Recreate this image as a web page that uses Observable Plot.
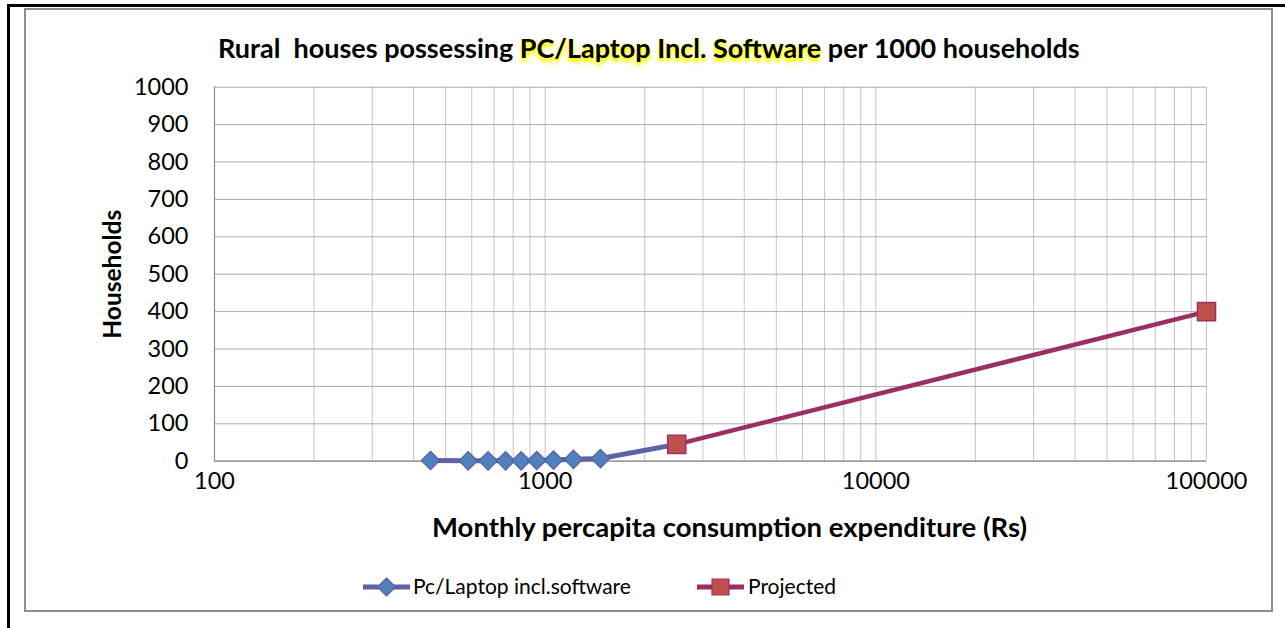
<!DOCTYPE html>
<html><head><meta charset="utf-8">
<script src="https://cdn.jsdelivr.net/npm/d3@7"></script>
<script src="https://cdn.jsdelivr.net/npm/@observablehq/plot@0.6"></script>
<style>
body{margin:0;background:#fff;font-family:Lato,sans-serif;}
#page{position:relative;width:1285px;height:628px;overflow:hidden;background:#fff;}
#outer{position:absolute;left:7px;top:4px;width:1300px;height:700px;border-left:3px solid #000;border-top:3px solid #000;}
#inner{position:absolute;left:24px;top:8px;width:1249px;height:604px;border:2px solid #8e8e8e;box-sizing:border-box;}
#title{position:absolute;left:218px;top:31.5px;font-size:27px;line-height:1.2;font-weight:bold;white-space:pre;color:#000;}
#title .hl{text-shadow:0 3px 3px #ffff00,0 4px 5px #ffff40,0 0 2px #ffff60;}
#chart{position:absolute;left:0;top:70px;}
.leg{position:absolute;top:573px;font-size:21px;line-height:1.2;white-space:pre;color:#000;}
.sw{position:absolute;top:577px;}
</style></head>
<body>
<div id="page">
  <div id="outer"></div>
  <div id="inner"></div>
  <div id="title"></div>
  <div id="chart"></div>
  <div id="legend"></div>
</div>
<script>
// ---- data ----
const pcX = [450, 585, 672, 759, 846, 943, 1060, 1218, 1470, 2500];
const pcY = [2, 1, 1, 1, 1, 2, 3, 5, 7, 45];
const pcMarkerCount = 9;
const projX = [2500, 100000];
const projY = [45, 400];
const yTicks = [0, 100, 200, 300, 400, 500, 600, 700, 800, 900, 1000];
const xTicks = [100, 1000, 10000, 100000];
const seriesNames = ["Pc/Laptop incl.software", "Projected"];
const titleParts = ["Rural  houses possessing ", "PC/Laptop Incl. Software", " per 1000 households"];
const xTitle = "Monthly percapita consumption expenditure (Rs)";
const yTitle = "Households";

const pcData = pcX.map((x, i) => ({x, y: pcY[i]}));
const projData = projX.map((x, i) => ({x, y: projY[i]}));
const minorTicks = d3.scaleLog().domain([100, 100000]).ticks();

const blueLine = "#5f62a6", blueFill = "#4f81bd", blueStroke = "#5a5fa4";
const redLine = "#9b2f62", redFill = "#c0504d", redStroke = "#9b3366";

// title
const t = document.getElementById("title");
t.innerHTML = "";
titleParts.forEach((p, i) => {
  const s = document.createElement("span");
  s.textContent = p;
  if (i === 1) s.className = "hl";
  t.appendChild(s);
});

const chart = Plot.plot({
  width: 1285,
  height: 490,
  marginLeft: 214,
  marginRight: 79,
  marginTop: 16.7,
  marginBottom: 99.3,
  x: {type: "log", domain: [100, 100000]},
  y: {domain: [0, 1000]},
  style: {fontFamily: "Lato, sans-serif", fontSize: "23.5px", color: "#000", background: "transparent", overflow: "visible"},
  marks: [
    Plot.ruleX(minorTicks, {stroke: "#c6c6c6", strokeWidth: 1}),
    Plot.ruleY(yTicks, {stroke: "#ababab", strokeWidth: 1}),
    Plot.ruleX([100], {stroke: "#8c8c8c", strokeWidth: 1.2}),
    Plot.ruleY([0], {stroke: "#8c8c8c", strokeWidth: 1.2}),
    Plot.axisY({ticks: yTicks, tickSize: 0, tickPadding: 26, tickFormat: d => String(d), label: null, fontSize: 23.5}),
    Plot.axisX({ticks: xTicks, tickSize: 0, tickPadding: 11, tickFormat: d => String(d), label: null, fontSize: 23.5}),
    Plot.text([yTitle], {text: d => d, frameAnchor: "left", textAnchor: "middle", dx: -101.5, rotate: -90, fontWeight: "bold", fontSize: 24.5}),
    Plot.text([xTitle], {text: d => d, frameAnchor: "bottom", textAnchor: "middle", dy: 76, dx: 19, fontWeight: "bold", fontSize: 27.5}),
    Plot.line(pcData, {x: "x", y: "y", stroke: blueLine, strokeWidth: 5}),
    Plot.line(projData, {x: "x", y: "y", stroke: redLine, strokeWidth: 4.5}),
    Plot.dot(pcData.slice(0, pcMarkerCount), {x: "x", y: "y", symbol: "diamond2", r: 8.3, fill: blueFill, stroke: blueStroke, strokeWidth: 1.2}),
    Plot.dot(projData, {x: "x", y: "y", symbol: "square", r: 10.2, fill: redFill, stroke: redStroke, strokeWidth: 1.5})
  ]
});
document.getElementById("chart").appendChild(chart);

// legend
const leg = document.getElementById("legend");
const legendItems = [
  {name: seriesNames[0], sx: 362, tx: 413, line: blueLine, fill: blueFill, stroke: blueStroke, shape: "diamond"},
  {name: seriesNames[1], sx: 696, tx: 748, line: redLine, fill: redFill, stroke: redStroke, shape: "square"}
];
legendItems.forEach(it => {
  const ns = "http://www.w3.org/2000/svg";
  const svg = document.createElementNS(ns, "svg");
  svg.setAttribute("width", 50); svg.setAttribute("height", 20);
  svg.setAttribute("class", "sw");
  svg.style.left = it.sx + "px";
  const ln = document.createElementNS(ns, "line");
  ln.setAttribute("x1", 1); ln.setAttribute("x2", 48); ln.setAttribute("y1", 10); ln.setAttribute("y2", 10);
  ln.setAttribute("stroke", it.line); ln.setAttribute("stroke-width", 5);
  svg.appendChild(ln);
  const m = document.createElementNS(ns, "path");
  if (it.shape === "diamond") m.setAttribute("d", "M24.5,1L33.5,10L24.5,19L15.5,10Z");
  else m.setAttribute("d", "M16,2H33V18H16Z");
  m.setAttribute("fill", it.fill); m.setAttribute("stroke", it.stroke); m.setAttribute("stroke-width", 1.2);
  svg.appendChild(m);
  leg.appendChild(svg);
  const tx = document.createElement("div");
  tx.className = "leg"; tx.style.left = it.tx + "px"; tx.textContent = it.name;
  leg.appendChild(tx);
});
</script>
</body></html>
